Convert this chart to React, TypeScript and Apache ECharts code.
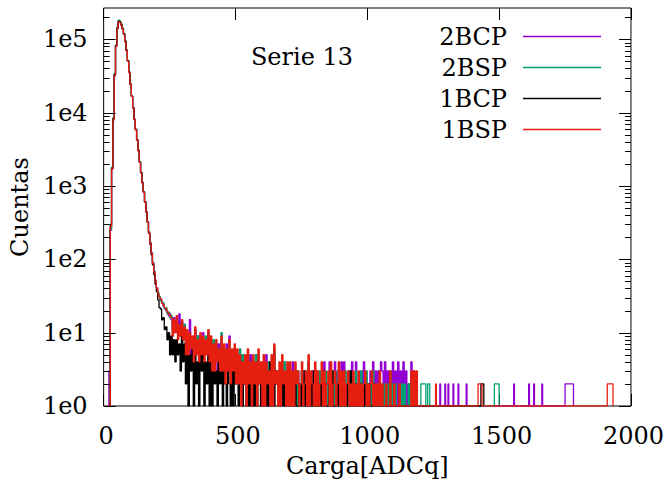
import React, { useEffect, useRef } from 'react';
import * as echarts from 'echarts';

const SERIES_NAMES = ['2BCP', '2BSP', '1BCP', '1BSP'];
const SERIES_COLORS = ['#9400d3', '#009e73', '#000000', '#e51e10'];

const X_TICKS = [0, 500, 1000, 1500, 2000];
const Y_DECADES = [1, 10, 100, 1000, 10000, 100000];
const Y_MINOR_MULT = [2, 3, 4, 5, 6, 7, 8, 9];
const Y_MAX = 267000;

const BIN = 5;
const PEAK_START = 15;
const TAIL_START = 205;

const peak2BCP = [1, 3, 250, 1700, 8000, 32000, 80000, 140000, 175000, 170000, 155000, 138000, 117000, 93000, 70000, 50500, 35000, 24300, 16700, 11600, 8100, 5900, 4250, 3050, 2140, 1530, 1110, 830, 610, 450, 328, 236, 170, 124, 91, 69, 52, 41];
const peak2BSP = [1, 1, 260, 1800, 8500, 34000, 84000, 146000, 182000, 178000, 162000, 142000, 120000, 95000, 71500, 51500, 35800, 24800, 16900, 11700, 8150, 5950, 4280, 3080, 2140, 1540, 1120, 835, 605, 447, 327, 233, 168, 122, 89, 67, 51, 40];
const peak1BCP = [1, 1, 300, 1750, 8200, 33000, 82000, 142000, 177000, 172000, 158000, 140000, 119000, 94500, 71000, 51000, 35500, 24500, 16800, 11700, 8100, 5900, 4250, 3050, 2120, 1520, 1110, 830, 605, 440, 318, 226, 160, 115, 84, 62, 46, 36];
const peak1BSP = [1, 1, 280, 1700, 8000, 32000, 80000, 140000, 174000, 169000, 155000, 137000, 116000, 92000, 69500, 50000, 35000, 24000, 16500, 11500, 8000, 5800, 4200, 3000, 2100, 1500, 1100, 820, 600, 440, 320, 230, 165, 120, 88, 66, 50, 40];

const tail2BCP = [
  33, 31, 28, 26, 23, 22, 20, 19, 17, 18,
  15, 11, 16, 10, 14, 12, 18, 9, 14, 10,
  13, 7, 10, 6, 15, 5, 8, 6, 11, 7,
  9, 4, 9, 6, 10, 5, 7, 7, 10, 4,
  8, 5, 6, 4, 7, 3, 7, 4, 8, 5,
  6, 4, 7, 3, 9, 4, 5, 3, 6, 4,
  5, 3, 4, 2, 5, 2, 4, 3, 5, 2,
  5, 1, 4, 2, 3, 2, 5, 3, 3, 2,
  4, 2, 5, 1, 4, 2, 3, 3, 5, 2,
  3, 2, 3, 1, 4, 2, 4, 1, 3, 2,
  3, 2, 4, 1, 3, 2, 3, 1, 2, 3,
  3, 2, 2, 1, 4, 2, 2, 3, 2, 3,
  3, 2, 2, 1, 3, 2, 4, 1, 2, 2,
  4, 2, 2, 1, 4, 2, 3, 1, 2, 4,
  2, 4, 1, 2, 2, 3, 1, 4, 2, 1,
  4, 2, 1, 2, 3, 1, 4, 2, 2, 1,
  2, 3, 1, 4, 1, 3, 1, 3, 1, 4,
  3, 1, 4, 1, 3, 1, 3, 1, 4, 1,
  3, 1, 4, 1, 3, 1, 4, 1, 3, 1,
  2, 1, 4, 1, 3, 1, 2, 1, 1, 1,
];
const tail2BSP = [
  35, 31, 27, 26, 25, 21, 22, 18, 19, 16,
  17, 10, 14, 12, 16, 10, 12, 11, 14, 8,
  13, 6, 10, 6, 9, 8, 8, 5, 11, 7,
  9, 5, 8, 6, 8, 5, 9, 6, 10, 4,
  8, 3, 8, 4, 7, 4, 6, 4, 10, 3,
  6, 4, 5, 4, 7, 4, 5, 3, 6, 2,
  5, 3, 6, 2, 5, 2, 4, 3, 5, 2,
  3, 2, 4, 2, 5, 2, 5, 3, 3, 2,
  4, 2, 3, 3, 4, 2, 4, 3, 6, 2,
  3, 2, 3, 2, 4, 2, 4, 2, 3, 2,
  3, 1, 2, 3, 3, 1, 3, 2, 1, 3,
  3, 1, 2, 3, 4, 1, 2, 1, 3, 3,
  1, 2, 3, 1, 3, 2, 1, 3, 2, 1,
  3, 1, 2, 3, 1, 2, 3, 3, 1, 2,
  2, 1, 3, 2, 1, 2, 3, 1, 2, 1,
  3, 1, 2, 1, 3, 2, 1, 2, 3, 1,
  2, 1, 2, 3, 1, 1, 2, 1, 2, 1,
  2, 1, 2, 1, 2, 1, 3, 1, 2, 1,
  2, 1, 1, 2, 1, 2, 1, 2, 1, 1,
  2, 1, 2, 1, 1, 1, 1, 1, 1, 1,
];
const tail1BCP = [
  28, 22, 21, 15, 16, 11, 12, 8, 10, 5,
  9, 5, 8, 4, 8, 5, 7, 3, 9, 4,
  7, 2, 6, 1, 5, 3, 6, 1, 7, 2,
  4, 1, 6, 3, 5, 1, 4, 2, 6, 1,
  5, 1, 4, 2, 3, 1, 5, 2, 4, 1,
  3, 2, 1, 4, 2, 1, 3, 1, 4, 2,
  3, 1, 2, 4, 1, 2, 3, 1, 2, 1,
  4, 1, 2, 1, 3, 1, 2, 3, 1, 2,
  1, 3, 1, 2, 1, 4, 1, 2, 1, 3,
  2, 1, 3, 1, 2, 1, 2, 1, 3, 1,
  2, 1, 2, 1, 3, 1, 1, 2, 1, 2,
  1, 3, 1, 2, 1, 1, 2, 1, 3, 1,
  2, 1, 1, 2, 1, 3, 1, 2, 1, 1,
  2, 1, 3, 1, 1, 2, 1, 2, 1, 1,
  2, 1, 1, 2, 1, 1, 3, 1, 1, 2,
  1, 1, 2, 1, 2, 1, 1, 2, 1, 1,
  2, 1, 1, 1, 2, 1, 1, 1, 1, 1,
];
const tail1BSP = [
  34, 30, 29, 25, 24, 22, 21, 19, 18, 17,
  16, 9, 15, 10, 17, 8, 13, 9, 15, 8,
  12, 5, 11, 5, 10, 6, 9, 4, 12, 5,
  8, 4, 10, 5, 9, 4, 8, 5, 11, 4,
  9, 3, 7, 3, 8, 4, 6, 3, 9, 3,
  7, 2, 6, 3, 8, 2, 6, 3, 7, 2,
  6, 2, 5, 1, 4, 2, 5, 1, 6, 2,
  4, 1, 5, 2, 4, 1, 6, 2, 4, 1,
  5, 1, 4, 2, 3, 1, 5, 1, 7, 2,
  3, 1, 4, 1, 5, 2, 3, 1, 4, 1,
  4, 1, 3, 1, 4, 2, 3, 1, 2, 4,
  1, 2, 3, 1, 5, 1, 3, 2, 1, 4,
  1, 3, 1, 2, 4, 1, 3, 1, 2, 3,
  1, 4, 1, 2, 3, 1, 2, 4, 1, 3,
  1, 3, 1, 2, 3, 1, 2, 1, 3, 1,
  2, 1, 3, 1, 2, 1, 2, 3, 1, 2,
  1, 2, 3, 1, 2, 1, 2, 1, 3, 1,
  2, 1, 1, 2, 1, 1, 3, 1, 1, 2,
  1, 1, 1, 2, 1, 1, 1, 1, 1, 1,
  1, 1, 3, 1, 3, 1, 3, 1, 1, 1,
];

const extraX2BCP = [1275, 1278, 1294, 1297, 1306, 1309, 1325, 1328, 1344, 1347, 1375, 1378, 1555, 1558, 1612, 1615, 1631, 1634, 1662, 1665, 1750, 1782];
const extraY2BCP = [2, 1, 2, 1, 2, 1, 2, 1, 2, 1, 2, 1, 2, 1, 2, 1, 2, 1, 2, 1, 2, 1];
const extraX2BSP = [1203, 1222, 1229, 1237, 1482, 1500];
const extraY2BSP = [2, 1, 2, 1, 2, 1];
const extraX1BCP = [1431, 1442];
const extraY1BCP = [2, 1];
const extraX1BSP = [1259, 1262, 1420, 1435, 1910, 1932];
const extraY1BSP = [2, 1, 2, 1, 2, 1];

const PEAKS = [peak2BCP, peak2BSP, peak1BCP, peak1BSP];
const TAILS = [tail2BCP, tail2BSP, tail1BCP, tail1BSP];
const EXTRA_X = [extraX2BCP, extraX2BSP, extraX1BCP, extraX1BSP];
const EXTRA_Y = [extraY2BCP, extraY2BSP, extraY1BCP, extraY1BSP];

const FONT = 'DejaVu Serif';

function buildSeriesData(i: number): number[][] {
  const pts: number[][] = [];
  PEAKS[i].forEach((v, k) => pts.push([PEAK_START + k * BIN, v]));
  TAILS[i].forEach((v, k) => pts.push([TAIL_START + k * BIN, v]));
  EXTRA_X[i].forEach((x, k) => pts.push([x, EXTRA_Y[i][k]]));
  return pts;
}

export default function App() {
  const ref = useRef<HTMLDivElement>(null);
  useEffect(() => {
    document.body.style.margin = '0';
    if (!ref.current) return;
    const chart = echarts.init(ref.current, undefined, { renderer: 'svg' });

    const yTicks: number[][] = [];
    Y_DECADES.forEach((d) => {
      yTicks.push([0, d, 12]);
      Y_MINOR_MULT.forEach((m) => {
        if (m * d < Y_MAX) yTicks.push([0, m * d, 6]);
      });
    });

    const lineSeries = SERIES_NAMES.map((name, i) => ({
      name,
      type: 'line',
      step: 'end',
      data: buildSeriesData(i),
      showSymbol: false,
      symbol: 'none',
      lineStyle: { color: SERIES_COLORS[i], width: 1.3 },
      itemStyle: { color: SERIES_COLORS[i] },
      z: 2 + i,
      silent: true,
      clip: true,
    }));

    const legendGraphics: any[] = [];
    SERIES_NAMES.forEach((name, i) => {
      const yc = 36 + i * 31;
      legendGraphics.push({
        type: 'text',
        x: 507,
        y: yc + 1,
        style: {
          text: name,
          fill: '#000',
          font: `24px "${FONT}"`,
          textAlign: 'right',
          textVerticalAlign: 'middle',
        },
      });
      legendGraphics.push({
        type: 'rect',
        shape: { x: 523, y: yc - 0.25, width: 78, height: 1.5 },
        style: { fill: SERIES_COLORS[i] },
      });
    });

    chart.setOption({
      animation: false,
      textStyle: { fontFamily: FONT },
      grid: {
        left: 100,
        top: 8,
        right: 35,
        bottom: 81,
        show: true,
        borderColor: '#000',
        borderWidth: 1,
        backgroundColor: 'transparent',
      },
      xAxis: [
        {
          type: 'value',
          min: X_TICKS[0],
          max: X_TICKS[X_TICKS.length - 1],
          interval: 500,
          position: 'bottom',
          axisLine: { show: false },
          axisTick: { show: true, inside: true, length: 12, lineStyle: { color: '#000' } },
          splitLine: { show: false },
          axisLabel: {
            fontFamily: FONT,
            fontSize: 24,
            color: '#000',
            margin: 18,
            padding: [0, 0, 0, 5],
            formatter: (v: number) => String(v),
          },
          name: 'Carga[ADCq]',
          nameLocation: 'middle',
          nameGap: 48,
          nameTextStyle: { fontFamily: FONT, fontSize: 24, color: '#000' },
        },
        {
          type: 'value',
          min: X_TICKS[0],
          max: X_TICKS[X_TICKS.length - 1],
          interval: 500,
          position: 'top',
          axisLine: { show: false },
          axisTick: { show: true, inside: true, length: 12, lineStyle: { color: '#000' } },
          splitLine: { show: false },
          axisLabel: { show: false },
        },
      ],
      yAxis: {
        type: 'log',
        logBase: 10,
        min: 1,
        max: Y_MAX,
        axisLine: { show: false },
        axisTick: { show: false },
        splitLine: { show: false },
        axisLabel: {
          fontFamily: FONT,
          fontSize: 24,
          color: '#000',
          margin: 16,
          formatter: (v: number) => {
            const e = Math.log10(v);
            return Math.abs(e - Math.round(e)) < 1e-6 ? `1e${Math.round(e)}` : '';
          },
        },
        name: 'Cuentas',
        nameLocation: 'middle',
        nameGap: 66,
        nameTextStyle: { fontFamily: FONT, fontSize: 24, color: '#000' },
      },
      graphic: [
        {
          type: 'text',
          x: 302,
          y: 57,
          style: {
            text: 'Serie 13',
            fill: '#000',
            font: `24px "${FONT}"`,
            textAlign: 'center',
            textVerticalAlign: 'middle',
          },
        },
        ...legendGraphics,
      ],
      series: [
        ...lineSeries,
        {
          type: 'custom',
          silent: true,
          z: 20,
          clip: false,
          data: yTicks,
          encode: { x: 0, y: 1 },
          renderItem: (params: any, api: any) => {
            const cs = params.coordSys;
            const y = Math.round(api.coord([0, api.value(1)])[1]) + 0.5;
            const len = api.value(2);
            return {
              type: 'group',
              children: [
                { type: 'line', shape: { x1: cs.x, y1: y, x2: cs.x + len, y2: y }, style: { stroke: '#000', lineWidth: 1 } },
                { type: 'line', shape: { x1: cs.x + cs.width - len, y1: y, x2: cs.x + cs.width, y2: y }, style: { stroke: '#000', lineWidth: 1 } },
              ],
            };
          },
        },
      ],
    });
    return () => chart.dispose();
  }, []);
  return <div ref={ref} style={{ width: 667, height: 487 }} />;
}
